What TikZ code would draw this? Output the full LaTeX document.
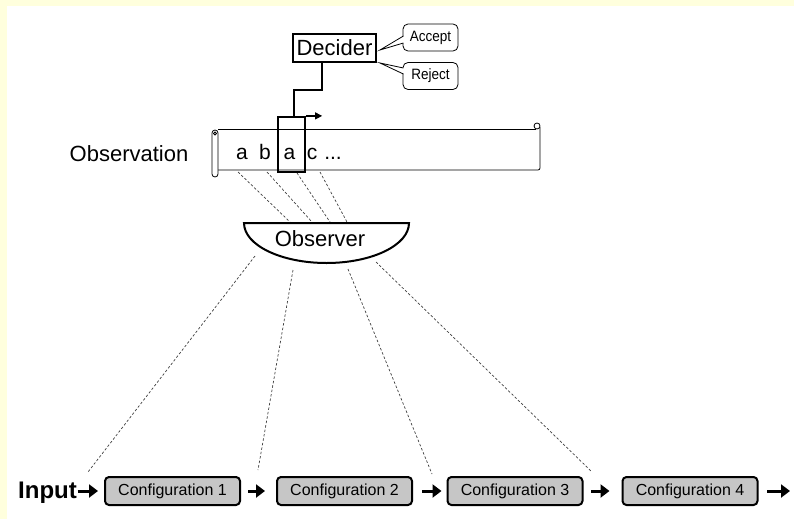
\documentclass[tikz,border=0pt]{standalone}
\usepackage{fontspec}
\setmainfont{Liberation Sans}
\newfontfamily\narrowfont[FakeStretch=0.9]{Liberation Sans}
\usetikzlibrary{arrows.meta}
\definecolor{bgyellow}{RGB}{255,255,221}
\definecolor{cfgfill}{RGB}{198,198,198}
\begin{document}
\begin{tikzpicture}[x=1pt,y=-1pt,
  decbox/.style={draw, line width=2pt, minimum width=83pt, minimum height=28pt, inner sep=0pt, font=\fontsize{22}{26}\selectfont},
  callout/.style={draw, line width=0.8pt, fill=white, rounded corners=5pt, minimum width=55pt, minimum height=27pt, inner sep=0pt, font=\narrowfont\fontsize{15}{17}\selectfont},
  tailline/.style={line width=0.8pt},
  hlbox/.style={draw, line width=2.2pt, minimum width=27pt, minimum height=55pt, inner sep=0pt},
  conn/.style={line width=2pt},
  movearrow/.style={line width=1.2pt, -{Triangle[length=7pt,width=7pt]}},
  tape/.style={line width=0.8pt},
  bigtext/.style={font=\fontsize{22}{26}\selectfont, inner sep=0pt},
  tapetext/.style={font=\fontsize{21}{24}\selectfont, inner sep=0pt, anchor=base},
  cfg/.style={draw, line width=2pt, fill=cfgfill, rounded corners=4pt, minimum width=135pt, minimum height=28pt, inner sep=0pt, font=\fontsize{16}{18}\selectfont},
  flow/.style={line width=3pt, -{Triangle[length=9pt,width=13pt]}},
  obsline/.style={dash pattern=on 2.5pt off 2pt, line width=0.7pt, draw=black!75}
]
% background
\fill[bgyellow] (0,0) rectangle (794,519);
\fill[white] (7,6) rectangle (794,519);
\useasboundingbox (0,0) rectangle (794,519);

% Decider and callouts
\node[decbox] (dec) at (334.5,48) {Decider};
\node[callout] (acc) at (430.5,37.5) {Accept};
\node[callout] (rej) at (430.5,76) {Reject};
\coordinate (acctip) at (380,50);
\coordinate (rejtip) at (380,63);
\fill[white] (404,36) -- (acctip) -- (404,43) -- cycle;
\draw[tailline] (403.4,36) -- (acctip) -- (403.4,43);
\fill[white] (404,68) -- (rejtip) -- (404,74) -- cycle;
\draw[tailline] (403.4,68) -- (rejtip) -- (403.4,74);

% tape
\draw[tape] (218,129) -- (536,129);
\draw[tape, rounded corners=2pt] (540,127) -- (540,170) -- (218,170);
\draw[tape] (537,126) circle[radius=3pt];
\draw[tape, rounded corners=3pt, fill=white] (212,130) rectangle (218,177);
\draw[tape] (215,133.5) circle[radius=1.5pt];

\node[bigtext] (obsn) at (129,154) {Observation};
\node[tapetext] (s1) at (242,159) {a};
\node[tapetext] (s2) at (265,159) {b};
\node[tapetext] (s3) at (289.5,159) {a};
\node[tapetext] (s4) at (312,159) {c};
\node[tapetext] (s5) at (333,159) {...};

% head box
\node[hlbox] (hl) at (291.5,144.5) {};
\draw[conn] ([xshift=-12.5pt]dec.south) -- ++(0,27) -| ([xshift=2.5pt]hl.north);
\draw[movearrow] (hl.north east) -- ++(16,0);

% observer
\draw[line width=2pt] (244,223) -- (409,223) arc[start angle=0, end angle=-180, x radius=82.5pt, y radius=40pt] -- cycle;
\node[bigtext] (obs) at (320,239) {Observer};

% dashed lines tape -> observer
\coordinate (t1) at (238,172); \coordinate (o1) at (290,222);
\coordinate (t2) at (267,172); \coordinate (o2) at (312,222);
\coordinate (t3) at (297,173); \coordinate (o3) at (330,222);
\coordinate (t4) at (320,172); \coordinate (o4) at (347,222);
\draw[obsline] (t1) -- (o1);
\draw[obsline] (t2) -- (o2);
\draw[obsline] (t3) -- (o3);
\draw[obsline] (t4) -- (o4);

% configurations
\node[font=\bfseries\fontsize{24}{28}\selectfont, inner sep=0pt, anchor=base west] (inp) at (18,498) {Input};
\node[cfg] (c1) at (172.5,491) {Configuration 1};
\node[cfg] (c2) at (344.5,491) {Configuration 2};
\node[cfg] (c3) at (515,491) {Configuration 3};
\node[cfg] (c4) at (690,491) {Configuration 4};
\coordinate (end) at (790,491);

\draw[flow, shorten <=0.5pt, shorten >=6pt] (inp.east |- c1) -- (c1.west);
\draw[flow, shorten <=7pt, shorten >=11pt] (c1.east) -- (c2.west);
\draw[flow, shorten <=9pt, shorten >=5pt] (c2.east) -- (c3.west);
\draw[flow, shorten <=7.5pt, shorten >=12pt] (c3.east) -- (c4.west);
\draw[flow, shorten <=8.5pt] (c4.east) -- (end);

% dashed lines observer -> configuration steps
\coordinate (b1) at (255,256); \coordinate (e1) at (88,472);
\coordinate (b2) at (293,270); \coordinate (e2) at (258,470);
\coordinate (b3) at (348,269); \coordinate (e3) at (432,474);
\coordinate (b4) at (376,262); \coordinate (e4) at (592,472);
\draw[obsline] (b1) -- (e1);
\draw[obsline] (b2) -- (e2);
\draw[obsline] (b3) -- (e3);
\draw[obsline] (b4) -- (e4);
\end{tikzpicture}
\end{document}
